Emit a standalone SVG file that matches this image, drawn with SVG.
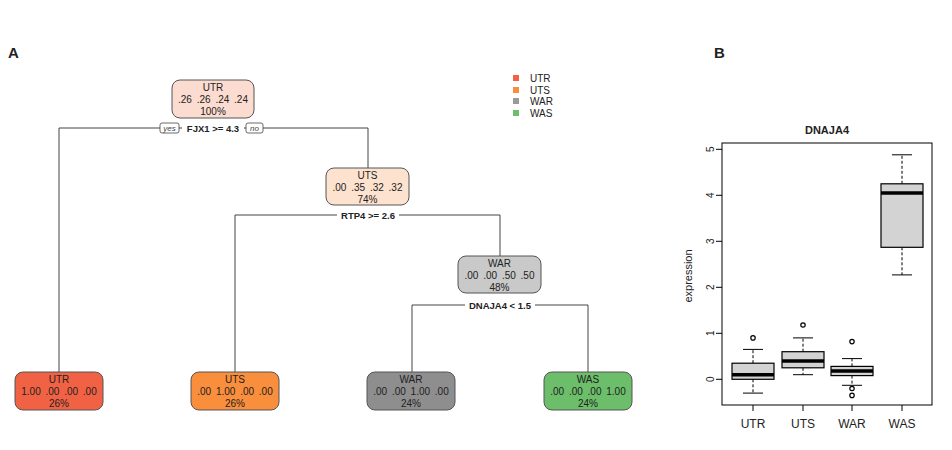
<svg xmlns="http://www.w3.org/2000/svg" width="952" height="450" viewBox="0 0 952 450">
<style>
text{font-family:"Liberation Sans",Arial,sans-serif;fill:#222}
.n{font-size:10px;text-anchor:middle;word-spacing:2px}
.s{font-size:9.5px;font-weight:bold;text-anchor:middle}
.nb{stroke:#555;stroke-width:1}
.c{fill:none;stroke:#444;stroke-width:1}
.yn{fill:#fff;stroke:#444;stroke-width:0.8}
.yt{font-size:8px;font-style:italic;text-anchor:middle;fill:#444}
.bx{fill:#d3d3d3;stroke:#000;stroke-width:1.2}
.md{stroke:#000;stroke-width:3.5}
.wh{stroke:#000;stroke-width:1;stroke-dasharray:3,2}
.cap{stroke:#000;stroke-width:1}
.ax{fill:none;stroke:#000;stroke-width:1}
.tk{font-size:10px;text-anchor:middle;fill:#444}
.ol{fill:none;stroke:#000;stroke-width:1.2}
</style>
<rect width="952" height="450" fill="#fff"/>
<text x="8" y="58" font-size="15" font-weight="bold">A</text>
<text x="714" y="58" font-size="15" font-weight="bold">B</text>
<g id="connectors">
<path class="c" d="M59,372V128H368V168"/>
<path class="c" d="M235,372V215H500V256"/>
<path class="c" d="M412,372V305H588V372"/>
<rect class="yn" x="160" y="123" width="19" height="10" rx="2"/><text class="yt" x="169.5" y="131">yes</text>
<rect class="yn" x="246" y="123" width="17" height="10" rx="2"/><text class="yt" x="254.5" y="131">no</text>
<rect x="182" y="122" width="62" height="12" fill="#fff"/>
<text class="s" x="213" y="131.5">FJX1 &gt;= 4.3</text>
<rect x="337" y="209" width="62" height="12" fill="#fff"/>
<text class="s" x="368" y="218.5">RTP4 &gt;= 2.6</text>
<rect x="465" y="299" width="70" height="12" fill="#fff"/>
<text class="s" x="500" y="308.5">DNAJA4 &lt; 1.5</text>
</g>
<g id="n1"><rect class="nb" x="172" y="80" width="82" height="38" rx="8" fill="#fcdcd0"/><text class="n" x="213" y="91">UTR</text><text class="n" x="213" y="103">.26 .26 .24 .24</text><text class="n" x="213" y="115">100%</text></g>
<g id="n2"><rect class="nb" x="326" y="168" width="83" height="37" rx="8" fill="#fde3cf"/><text class="n" x="367.5" y="179">UTS</text><text class="n" x="367.5" y="191">.00 .35 .32 .32</text><text class="n" x="367.5" y="203">74%</text></g>
<g id="n3"><rect class="nb" x="458" y="256" width="83" height="37" rx="8" fill="#c9c9c9"/><text class="n" x="499.5" y="267">WAR</text><text class="n" x="499.5" y="279">.00 .00 .50 .50</text><text class="n" x="499.5" y="291">48%</text></g>
<g id="l1"><rect class="nb" x="15" y="372" width="88" height="38" rx="8" fill="#f06243"/><text class="n" x="59" y="383">UTR</text><text class="n" x="59" y="395">1.00 .00 .00 .00</text><text class="n" x="59" y="407">26%</text></g>
<g id="l2"><rect class="nb" x="191" y="372" width="88" height="38" rx="8" fill="#f98e3c"/><text class="n" x="235" y="383">UTS</text><text class="n" x="235" y="395">.00 1.00 .00 .00</text><text class="n" x="235" y="407">26%</text></g>
<g id="l3"><rect class="nb" x="367" y="372" width="88" height="38" rx="8" fill="#8e8e8e"/><text class="n" x="411" y="383">WAR</text><text class="n" x="411" y="395">.00 .00 1.00 .00</text><text class="n" x="411" y="407">24%</text></g>
<g id="l4"><rect class="nb" x="544" y="372" width="88" height="38" rx="8" fill="#6cbe6a"/><text class="n" x="588" y="383">WAS</text><text class="n" x="588" y="395">.00 .00 .00 1.00</text><text class="n" x="588" y="407">24%</text></g>
<g id="legend" font-size="10">
<rect x="513" y="75" width="6" height="6" fill="#f06243"/><text x="530" y="82">UTR</text>
<rect x="513" y="87" width="6" height="6" fill="#f98e3c"/><text x="530" y="94">UTS</text>
<rect x="513" y="98" width="6" height="6" fill="#9a9a9a"/><text x="530" y="105">WAR</text>
<rect x="513" y="110" width="6" height="6" fill="#6cbe6a"/><text x="530" y="117">WAS</text>
</g>
<g id="boxplot">
<text x="827" y="134" font-size="11" font-weight="bold" text-anchor="middle">DNAJA4</text>
<rect class="ax" x="722" y="143" width="210" height="262"/>
<path class="ax" d="M722,149.3h-6M722,195.3h-6M722,241.3h-6M722,287.3h-6M722,333.3h-6M722,379.3h-6"/>
<g class="tk"><text transform="translate(710,149.3) rotate(-90)" y="3.5">5</text><text transform="translate(710,195.3) rotate(-90)" y="3.5">4</text><text transform="translate(710,241.3) rotate(-90)" y="3.5">3</text><text transform="translate(710,287.3) rotate(-90)" y="3.5">2</text><text transform="translate(710,333.3) rotate(-90)" y="3.5">1</text><text transform="translate(710,379.3) rotate(-90)" y="3.5">0</text></g>
<text transform="translate(692,276) rotate(-90)" font-size="11" text-anchor="middle" fill="#444">expression</text>
<path class="ax" d="M753,405v6M803,405v6M852,405v6M902,405v6"/>
<g font-size="12" text-anchor="middle"><text x="753" y="428">UTR</text><text x="803" y="428">UTS</text><text x="852" y="428">WAR</text><text x="902" y="428">WAS</text></g>
<path class="wh" d="M753,363.2V349.4M753,379.3V393.1"/><path class="cap" d="M743,349.4h20M743,393.1h20"/>
<rect class="bx" x="732" y="363.2" width="42" height="16.1"/><path class="md" d="M732,374.7h42"/><circle class="ol" cx="753" cy="337.9" r="2.2"/>
<path class="wh" d="M803,351.7V337.9M803,367.8V374.7"/><path class="cap" d="M793,337.9h20M793,374.7h20"/>
<rect class="bx" x="782" y="351.7" width="42" height="16.1"/><path class="md" d="M782,360.9h42"/><circle class="ol" cx="803" cy="325" r="2.2"/>
<path class="wh" d="M852,366.4V358.6M852,375.6V385.3"/><path class="cap" d="M842,358.6h20M842,385.3h20"/>
<rect class="bx" x="831" y="366.4" width="42" height="9.2"/><path class="md" d="M831,371h42"/><circle class="ol" cx="852" cy="341.6" r="2.2"/><circle class="ol" cx="852" cy="388.5" r="2.2"/><circle class="ol" cx="852" cy="395.4" r="2.2"/>
<path class="wh" d="M902,183.8V154.8M902,247.3V274.9"/><path class="cap" d="M892,154.8h20M892,274.9h20"/>
<rect class="bx" x="881" y="183.8" width="42" height="63.5"/><path class="md" d="M881,193h42"/>
</g>
</svg>
